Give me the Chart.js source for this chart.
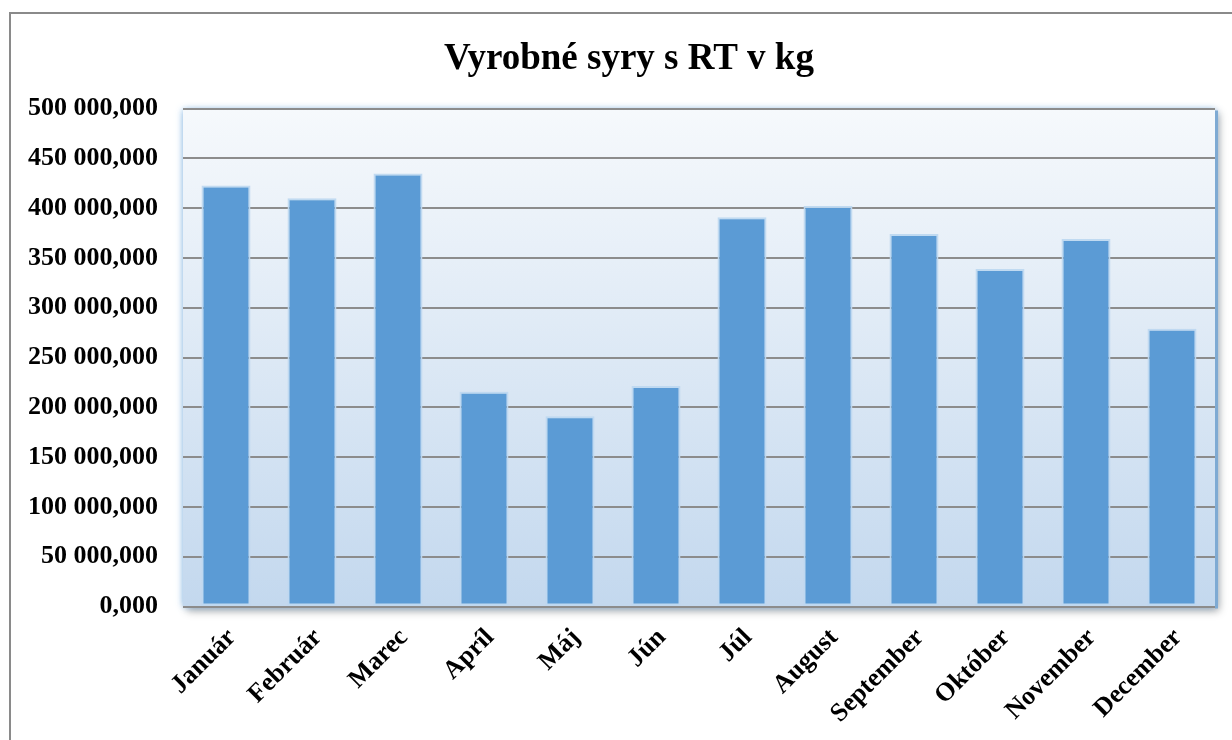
<!DOCTYPE html>
<html>
<head>
<meta charset="utf-8">
<script src="https://cdn.jsdelivr.net/npm/chart.js@4.4.1/dist/chart.umd.min.js"></script>
<style>
  html, body { margin: 0; padding: 0; background: #fff; overflow: hidden; }
  #frame {
    position: absolute; left: 9px; top: 12px;
    border: 2px solid #8a8a8a; background: #fff;
  }
  canvas { display: block; }
</style>
</head>
<body>
<div id="frame"><canvas id="chart" width="1236" height="800" style="width:1236px;height:800px"></canvas></div>
<script>
// Data (kg)
const months = ['Január', 'Február', 'Marec', 'Apríl', 'Máj', 'Jún', 'Júl', 'August', 'September', 'Október', 'November', 'December'];
const cheeseKg = [422600, 409800, 434700, 215600, 191100, 221300, 390800, 402200, 374100, 338900, 369000, 278900];
const yMin = 0;
const yMax = 500000;
const yStep = 50000;

const SERIF = "'Liberation Serif','Times New Roman',serif";

// 500000 -> "500 000,000"
function formatKg(v) {
  return Math.round(v).toString().replace(/\B(?=(\d{3})+(?!\d))/g, ' ') + ',000';
}

// Plot area: gradient fill, light glow and a soft drop shadow
const plotBackground = {
  id: 'plotBackground',
  beforeDraw(chart) {
    const { ctx, chartArea: a } = chart;
    ctx.save();
    // drop shadow
    ctx.shadowColor = 'rgba(0,0,0,0.35)';
    ctx.shadowBlur = 8;
    ctx.shadowOffsetX = 4;
    ctx.shadowOffsetY = 4;
    ctx.fillStyle = '#c3d8ee';
    ctx.fillRect(a.left, a.top, a.width, a.height);
    // blue glow
    ctx.shadowColor = 'rgba(120,180,235,0.9)';
    ctx.shadowBlur = 7;
    ctx.shadowOffsetX = 0;
    ctx.shadowOffsetY = 0;
    const g = ctx.createLinearGradient(0, a.top, 0, a.bottom);
    g.addColorStop(0, '#f6f9fc');
    g.addColorStop(1, '#c3d8ee');
    ctx.fillStyle = g;
    ctx.fillRect(a.left, a.top, a.width, a.height);
    ctx.shadowColor = 'transparent';
    // darker rim on the right
    ctx.fillStyle = '#7eaad3';
    ctx.fillRect(a.right, a.top + 2, 3, a.height);
    ctx.restore();
  },
};

new Chart(document.getElementById('chart'), {
  type: 'bar',
  data: {
    labels: months,
    datasets: [{
      data: cheeseKg,
      backgroundColor: '#5b9bd5',
      borderColor: 'rgba(190,216,240,0.95)',
      borderWidth: 2,
      borderSkipped: false,
      barPercentage: 0.57,
      categoryPercentage: 1,
    }],
  },
  options: {
    responsive: false,
    devicePixelRatio: 1,
    animation: false,
    layout: { padding: 0 },
    plugins: {
      legend: { display: false },
      tooltip: { enabled: false },
      title: {
        display: true,
        text: 'Vyrobné syry s RT v kg',
        color: '#000',
        font: { family: SERIF, size: 37, weight: 'bold', lineHeight: 1.2 },
        padding: { top: 23, bottom: 27.1 },
      },
    },
    scales: {
      x: {
        grid: { display: false, drawTicks: false },
        border: { display: false },
        ticks: {
          color: '#000',
          font: { family: SERIF, size: 26, weight: 'bold' },
          maxRotation: 45,
          minRotation: 45,
          padding: 16,
          labelOffset: 6,
        },
        afterFit(scale) { scale.height = 207.5; },
      },
      y: {
        min: yMin,
        max: yMax,
        grid: { color: '#8c8c8c', lineWidth: 2, drawTicks: false },
        border: { display: false },
        ticks: {
          stepSize: yStep,
          color: '#000',
          font: { family: SERIF, size: 26, weight: 'bold' },
          padding: 25,
          callback: (v) => formatKg(v),
        },
        afterFit(scale) { scale.width = 172; },
      },
      // empty right-hand spacer so the title stays centred on the whole frame
      spacer: {
        type: 'linear',
        position: 'right',
        display: true,
        grid: { display: false, drawTicks: false },
        border: { display: false },
        ticks: { display: false },
        afterFit(scale) { scale.width = 32; },
      },
    },
  },
  plugins: [plotBackground],
});
</script>
</body>
</html>
